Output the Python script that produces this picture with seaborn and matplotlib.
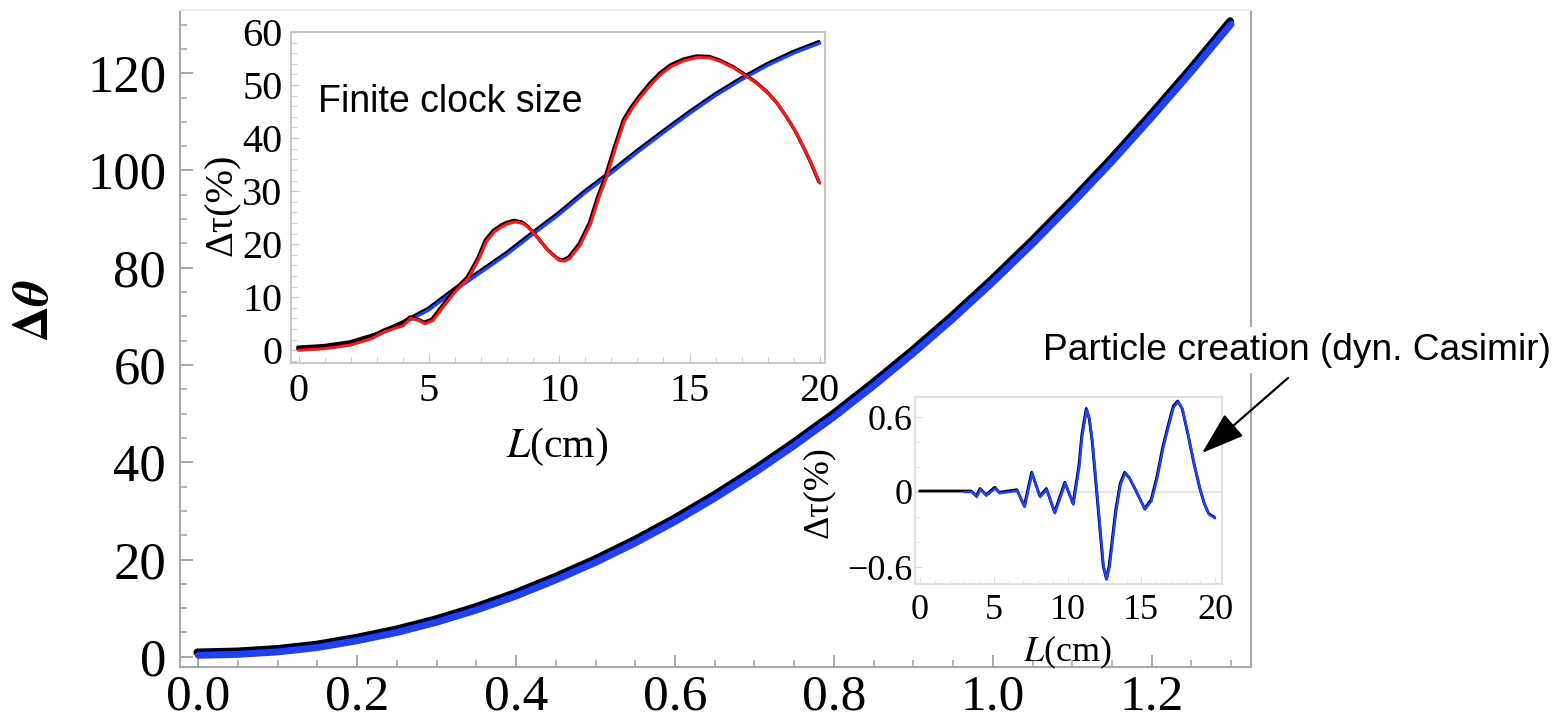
import numpy as np
import pandas as pd
import matplotlib
matplotlib.use("Agg")
import matplotlib.pyplot as plt
import matplotlib.transforms as mtransforms
from matplotlib.ticker import MultipleLocator
import seaborn as sns

# =============================================================================
# Data
# =============================================================================
# main panel: phase difference vs x
main_x = [0.00, 0.05, 0.10, 0.15, 0.20, 0.25, 0.30, 0.35, 0.40, 0.45, 0.50, 0.55, 0.60, 0.65,
          0.70, 0.75, 0.80, 0.85, 0.90, 0.95, 1.00, 1.05, 1.10, 1.15, 1.20, 1.25, 1.30]
main_dtheta = [0.3, 0.5, 1.0, 1.9, 3.3, 5.0, 7.1, 9.6, 12.5, 15.8, 19.4, 23.4, 27.8, 32.6,
               37.8, 43.4, 49.3, 55.7, 62.4, 69.5, 77.0, 84.9, 93.2, 101.8, 110.9, 120.3, 130.1]

# inset 1: finite clock size (percent)
lin_L = [0, 1, 2, 3, 4, 5, 6, 7, 8, 9, 10, 11, 12, 13, 14, 15, 16, 17, 18, 19, 20]
lin_tau = [0.3, 0.6, 1.3, 2.8, 5.0, 7.6, 11.3, 14.7, 18.1, 21.9, 25.6, 29.7, 33.4, 37.3,
           41.0, 44.6, 48.0, 51.0, 53.7, 56.0, 57.9]
osc_L = [0.0, 1.0, 2.0, 2.8, 3.3, 3.6, 4.0, 4.3, 4.6, 4.85, 5.15, 5.6, 6.0, 6.5, 6.9, 7.2,
         7.5, 7.8, 8.0, 8.3, 8.6, 8.8, 9.0, 9.3, 9.6, 10.0, 10.2, 10.4, 10.8, 11.2, 11.5,
         11.8, 12.15, 12.5, 12.8, 13.1, 13.5, 13.9, 14.3, 14.8, 15.3, 15.8, 16.2, 16.7,
         17.2, 17.6, 18.0, 18.4, 18.75, 19.1, 19.4, 19.7, 20.0]
osc_tau = [0.0, 0.3, 1.0, 2.2, 3.5, 4.0, 4.6, 6.0, 5.6, 5.0, 5.6, 8.5, 11.0, 13.5, 17.0, 20.5,
           22.3, 23.3, 23.8, 24.2, 23.9, 23.2, 22.2, 20.4, 18.6, 16.9, 16.8, 17.3, 19.8, 23.8,
           28.5, 32.4, 38.0, 43.2, 45.6, 47.6, 50.0, 52.0, 53.5, 54.6, 55.2, 55.1, 54.4, 53.2,
           51.6, 50.2, 48.5, 46.3, 43.8, 41.0, 38.1, 35.0, 31.5]

# inset 2: particle creation (percent)
pc_L = [0.0, 1.0, 2.0, 3.0, 3.5, 3.85, 4.1, 4.5, 5.1, 5.4, 6.0, 6.6, 7.1, 7.6, 8.15, 8.6,
        9.15, 9.85, 10.4, 10.8, 11.0, 11.3, 11.5, 11.7, 12.0, 12.3, 12.45, 12.66, 12.85,
        13.0, 13.3, 13.6, 13.9, 14.2, 14.6, 15.25, 15.7, 16.1, 16.5, 16.8, 17.2, 17.5,
        17.8, 18.2, 18.6, 19.0, 19.3, 19.6, 20.0]
pc_tau = [0.0, 0.0, 0.0, 0.0, 0.0, -0.04, 0.02, -0.03, 0.03, -0.01, 0.0, 0.01, -0.12, 0.15,
          -0.04, 0.02, -0.17, 0.07, -0.10, 0.20, 0.45, 0.66, 0.58, 0.40, 0.0, -0.40, -0.60,
          -0.70, -0.60, -0.45, -0.15, 0.06, 0.15, 0.11, 0.02, -0.14, -0.07, 0.12, 0.36, 0.50,
          0.68, 0.72, 0.66, 0.45, 0.22, 0.02, -0.10, -0.18, -0.21]

df_main = pd.DataFrame({"x": main_x, "y": main_dtheta})
df_lin = pd.DataFrame({"L": lin_L, "tau": lin_tau})
df_osc = pd.DataFrame({"L": osc_L, "tau": osc_tau})
df_pc = pd.DataFrame({"L": pc_L, "tau": pc_tau})
df_pc_blue = df_pc[df_pc["L"] >= 3.0]

BLUE = "#2040ff"
RED = "#ff1a1a"
SERIF = "Liberation Serif"
SANS = "Liberation Sans"

sns.set_style("white")
plt.rcParams["font.family"] = [SERIF, "DejaVu Serif"]
plt.rcParams["mathtext.fontset"] = "stix"
plt.rcParams["text.color"] = "black"
plt.rcParams["xtick.labelcolor"] = "black"
plt.rcParams["ytick.labelcolor"] = "black"
plt.rcParams["lines.solid_joinstyle"] = "round"
plt.rcParams["lines.solid_capstyle"] = "round"

fig = plt.figure(figsize=(15.68, 7.26), dpi=100)
W, H = 1568, 726


def px_axes(left, top, right, bottom):
    return fig.add_axes([left / W, 1 - bottom / H, (right - left) / W, (bottom - top) / H])


def style_frame(ax, color, top_color=None):
    for name, sp in ax.spines.items():
        sp.set_visible(True)
        sp.set_color(color)
        sp.set_linewidth(1.5)
    if top_color:
        ax.spines["top"].set_color(top_color)


def shifted(ax, dx, dy):
    return mtransforms.offset_copy(ax.transData, fig=fig, x=dx, y=dy, units="dots")


# =============================================================================
# Main panel
# =============================================================================
ax = px_axes(180, 10, 1251, 667)
sns.lineplot(data=df_main, x="x", y="y", ax=ax, color="black", lw=5.5,
             transform=shifted(ax, -1, 3))
sns.lineplot(data=df_main, x="x", y="y", ax=ax, color=BLUE, lw=5)
ax.set_xlim(-0.023, 1.325)
ax.set_ylim(-2.1, 133)
ax.set_xticks([0.0, 0.2, 0.4, 0.6, 0.8, 1.0, 1.2])
ax.set_xticklabels(["0.0", "0.2", "0.4", "0.6", "0.8", "1.0", "1.2"])
ax.set_yticks([0, 20, 40, 60, 80, 100, 120])
ax.xaxis.set_minor_locator(MultipleLocator(0.05))
ax.yaxis.set_minor_locator(MultipleLocator(5))
ax.tick_params(which="both", direction="in", color="#a0a0a0", labelsize=38,
               bottom=True, left=True, top=False, right=False)
ax.tick_params(axis="x", which="both", pad=5, labelsize=37)
ax.tick_params(axis="y", which="both", pad=10)
ax.tick_params(which="major", length=9, width=1.3)
ax.tick_params(which="minor", length=5, width=1.1)
ax.set_xlabel("")
ax.set_ylabel("")
ax.text(-0.135, 0.543, r"$\mathbf{\Delta}\boldsymbol{\theta}$", transform=ax.transAxes,
        rotation=90, ha="center", va="center", fontsize=36)
style_frame(ax, "#a8a8a8", top_color="#ececec")

# =============================================================================
# Inset 1: finite clock size
# =============================================================================
ax1 = px_axes(291, 32, 825, 363)
ax1.set_facecolor("white")
sns.lineplot(data=df_lin, x="L", y="tau", ax=ax1, color="black", lw=2.4,
             transform=shifted(ax1, -1, 1.5))
sns.lineplot(data=df_lin, x="L", y="tau", ax=ax1, color=BLUE, lw=2.2)
sns.lineplot(data=df_osc, x="L", y="tau", ax=ax1, color="black", lw=2.4,
             transform=shifted(ax1, -1, 1.5))
sns.lineplot(data=df_osc, x="L", y="tau", ax=ax1, color=RED, lw=2.2)
ax1.set_xlim(-0.3, 20.2)
ax1.set_ylim(-2.4, 59.8)
ax1.set_xticks([0, 5, 10, 15, 20])
ax1.set_yticks([0, 10, 20, 30, 40, 50, 60])
ax1.xaxis.set_minor_locator(MultipleLocator(1))
ax1.yaxis.set_minor_locator(MultipleLocator(2))
ax1.tick_params(which="both", direction="in", color="#c8c8c8", labelsize=29,
                bottom=True, left=True, top=False, right=False)
ax1.tick_params(axis="x", which="both", pad=7)
ax1.tick_params(axis="y", which="both", pad=6)
ax1.tick_params(which="major", length=6)
ax1.tick_params(which="minor", length=4)
ax1.set_xlabel("")
ax1.set_ylabel("")
ax1.text(0.498, -0.254, "$L$(cm)", transform=ax1.transAxes, ha="center", va="center",
         fontsize=30)
ax1.text(-0.129, 0.477, "Δτ(%)", transform=ax1.transAxes, rotation=90, ha="center",
         va="center", fontsize=29)
ax1.text(0.05, 0.79, "Finite clock size", transform=ax1.transAxes, ha="left",
         va="center", fontsize=27, family=[SANS, "DejaVu Sans"])
style_frame(ax1, "#c8c8c8")

# =============================================================================
# Inset 2: particle creation
# =============================================================================
ax2 = px_axes(915, 397, 1222, 584)
ax2.set_facecolor("white")
ax2.axhline(0, color="#e4e4e4", lw=1.5, zorder=0)
sns.lineplot(data=df_pc, x="L", y="tau", ax=ax2, color="black", lw=2.0,
             transform=shifted(ax2, -0.5, 1))
sns.lineplot(data=df_pc_blue, x="L", y="tau", ax=ax2, color=BLUE, lw=1.8)
ax2.set_xlim(-0.34, 20.47)
ax2.set_ylim(-0.736, 0.76)
ax2.set_xticks([0, 5, 10, 15, 20])
ax2.set_yticks([-0.6, 0, 0.6])
ax2.set_yticklabels(["\u22120.6", "0", "0.6"])
ax2.xaxis.set_minor_locator(MultipleLocator(1))
ax2.yaxis.set_minor_locator(MultipleLocator(0.2))
ax2.tick_params(which="both", direction="in", color="#dcdcdc", labelsize=26,
                bottom=True, left=True, top=False, right=False)
ax2.tick_params(axis="x", which="both", pad=7)
ax2.tick_params(axis="y", which="both", pad=2)
ax2.tick_params(which="major", length=5)
ax2.tick_params(which="minor", length=3)
ax2.set_xlabel("")
ax2.set_ylabel("")
ax2.text(0.498, -0.364, "$L$(cm)", transform=ax2.transAxes, ha="center", va="center",
         fontsize=26)
ax2.text(-0.316, 0.492, "Δτ(%)", transform=ax2.transAxes, rotation=90, ha="center",
         va="center", fontsize=26)
style_frame(ax2, "#e0e0e0")

# annotation for the particle-creation inset
ax2.text(1043 / W, 1 - 350 / H, "Particle creation (dyn. Casimir)", transform=fig.transFigure,
         ha="left", va="center", fontsize=26.7, family=[SANS, "DejaVu Sans"], clip_on=False,
         bbox=dict(facecolor="white", edgecolor="none", pad=4))
ax2.annotate("", xy=(1202 / W, 1 - 453 / H), xytext=(1288 / W, 1 - 378 / H),
             xycoords="figure fraction", textcoords="figure fraction", annotation_clip=False,
             arrowprops=dict(arrowstyle="-|>,head_length=0.9,head_width=0.3",
                             mutation_scale=30, color="black", lw=1.6, shrinkA=0, shrinkB=0))

fig.savefig("out.png", dpi=100)
plt.close(fig)
